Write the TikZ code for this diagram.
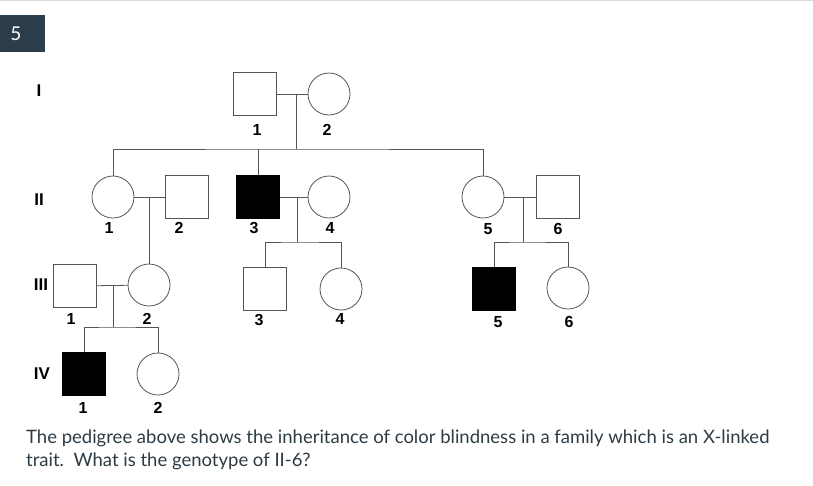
\documentclass[tikz,border=0pt]{standalone}
\usepackage{fontspec}
\setmainfont{Lato}
\newfontfamily\arialfont{Liberation Sans}
\usepackage{tikz}
\usetikzlibrary{calc}
\usetikzlibrary{shapes.geometric}
\definecolor{badge}{HTML}{2C3E4C}
\definecolor{pedline}{HTML}{555555}
\definecolor{qtext}{HTML}{2D3B45}
\tikzstyle{male} = [draw=pedline,line width=0.8pt,rectangle,minimum size=43pt,inner sep=0pt]
\tikzstyle{female} = [draw=pedline,line width=0.8pt,circle,minimum size=42pt,inner sep=0pt]
\tikzstyle{affected} = [fill=black,draw=black]
\tikzstyle{num} = [font=\arialfont\bfseries\fontsize{16}{16}\selectfont,inner sep=0pt]
\tikzstyle{gen} = [font=\arialfont\bfseries\fontsize{17}{17}\selectfont,inner sep=0pt]
\tikzstyle{link} = [draw=pedline,line width=0.8pt]

\begin{document}
\begin{tikzpicture}[x=1pt,y=-1pt]
\useasboundingbox (0,0) rectangle (813,485);
\draw[black!15,line width=1pt] (0,0.5) -- (813,0.5);
\fill[badge] (0,15) rectangle (45,52);
\node[text=white,font=\fontsize{19}{19}\selectfont,inner sep=0pt] (qnum) at (16,34) {5};

\node[gen] (gI) at (39,91) {I};
\node[gen] (gII) at (39,200) {II};
\node[gen] (gIII) at (41,285) {III};
\node[gen] (gIV) at (42,374) {IV};

\node[male] (I1) at (255,94) {};
\node[female] (I2) at (329,94) {};

\node[female] (II1) at (113,197) {};
\node[male] (II2) at (187,197) {};
\node[male,affected] (II3) at (258,197) {};
\node[female] (II4) at (329,197) {};
\node[female] (II5) at (483,197) {};
\node[male] (II6) at (558,197) {};

\node[male] (III1) at (75,286) {};
\node[female] (III2) at (149,285) {};
\node[male] (III3) at (265,289) {};
\node[female] (III4) at (341,289) {};
\node[male,affected] (III5) at (494,289) {};
\node[female] (III6) at (568,288) {};

\node[male,affected] (IV1) at (84,374) {};
\node[female] (IV2) at (158,374) {};

\node[num] (nI1) at (257,130) {1};
\node[num] (nI2) at (327,130) {2};
\node[num] (nII1) at (109,228) {1};
\node[num] (nII2) at (179,228) {2};
\node[num] (nII3) at (254,228) {3};
\node[num] (nII4) at (330,228) {4};
\node[num] (nII5) at (488,229) {5};
\node[num] (nII6) at (558,229) {6};
\node[num] (nIII1) at (71,319) {1};
\node[num] (nIII2) at (147,319) {2};
\node[num] (nIII3) at (259,320) {3};
\node[num] (nIII4) at (340,319) {4};
\node[num] (nIII5) at (498,322) {5};
\node[num] (nIII6) at (569,322) {6};
\node[num] (nIV1) at (83,408) {1};
\node[num] (nIV2) at (158,408) {2};

\coordinate (mI) at (296,94);
\coordinate (sI) at (296,149);
\coordinate (mA) at (149,197);
\coordinate (mB) at (297,197);
\coordinate (sB) at (297,242);
\coordinate (mC) at (523,197);
\coordinate (sC) at (523,242);
\coordinate (mD) at (113,285);
\coordinate (sD) at (113,327);

\draw[link] (I1) -- (I2);
\draw[link] (mI) -- (sI);
\draw[link] (II1.north) |- (sI) -| (II5.north);
\draw[link] (II3.north) -- (II3.north |- sI);

\draw[link] (II1) -- (II2);
\draw[link] (mA) -- (III2.north);
\draw[link] (II3) -- (II4);
\draw[link] (mB) -- (sB);
\draw[link] (III3.north) |- (sB) -| (III4.north);
\draw[link] (II5) -- (II6);
\draw[link] (mC) -- (sC);
\draw[link] (III5.north) |- (sC) -| (III6.north);

\draw[link] (III1) -- (III2);
\draw[link] (mD) -- (sD);
\draw[link] (IV1.north) |- (sD) -| (IV2.north);

\node[anchor=base west,align=left,inner sep=0pt,text=qtext,font=\fontsize{18.5}{23}\selectfont] (question) at (26,466)
  {The pedigree above shows the inheritance of color blindness in a family which is an X-linked\\trait.\ \ What is the genotype of II-6?};
\end{tikzpicture}
\end{document}
